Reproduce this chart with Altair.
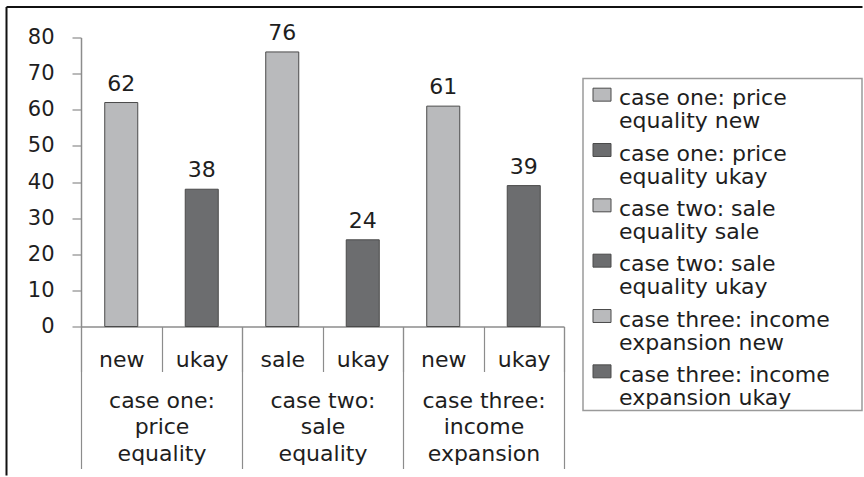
import altair as alt
import pandas as pd

# ---- data ----
case_labels = ["case one:|price|equality", "case two:|sale|equality", "case three:|income|expansion"]
sub_labels = ["new", "ukay", "sale", "ukay", "new", "ukay"]
case_of_bar = [0, 0, 1, 1, 2, 2]
values = [62, 38, 76, 24, 61, 39]
shades = ["light", "dark", "light", "dark", "light", "dark"]
y_ticks = [0, 10, 20, 30, 40, 50, 60, 70, 80]
legend_labels = [
    "case one: price\nequality new",
    "case one: price\nequality ukay",
    "case two: sale\nequality sale",
    "case two: sale\nequality ukay",
    "case three: income\nexpansion new",
    "case three: income\nexpansion ukay",
]

# ---- styles ----
LIGHT = "#b9babc"
DARK = "#6c6d6f"
EDGE = "#4a4a4a"
AXIS = "#8c8c8c"
TEXT = "#1e1e1e"
FONT = "DejaVu Sans"

keys = [f"{i}|{s}" for i, s in enumerate(sub_labels)]
bars = pd.DataFrame({
    "key": keys,
    "case": [case_labels[c] for c in case_of_bar],
    "value": values,
    "shade": shades,
})

W, H = 483, 289

color = alt.Color("shade:N", scale=alt.Scale(domain=["light", "dark"], range=[LIGHT, DARK]), legend=None)
xscale = alt.Scale(paddingInner=0, paddingOuter=0)
yscale = alt.Scale(domain=[0, 80], nice=False)

xaxis = alt.Axis(title=None, orient="bottom", offset=0,
                 labelExpr="split(datum.label, '|')[1]", labelAngle=0,
                 labelFont=FONT, labelFontSize=22, labelColor=TEXT,
                 labelBaseline="middle", labelPadding=-12.5,
                 tickBand="extent", tickSize=45, tickColor=AXIS, tickWidth=1.2,
                 domainColor=AXIS, domainWidth=1.5, grid=False)
yaxis = alt.Axis(title=None, values=y_ticks, tickCount=len(y_ticks), labelOverlap=False,
                 labelFont=FONT, labelFontSize=21, labelColor=TEXT,
                 labelPadding=18, tickSize=9, tickColor=AXIS, tickWidth=1.2,
                 domainColor=AXIS, domainWidth=1.5, grid=False)

xb = alt.X("key:N", sort=keys, scale=xscale, axis=xaxis)
yb = alt.Y("value:Q", scale=yscale, axis=yaxis)

bar_layer = alt.Chart(bars).mark_bar(width={"band": 0.41}, stroke=EDGE, strokeWidth=1).encode(
    x=xb, y=yb, color=color)
text_layer = alt.Chart(bars).mark_text(baseline="bottom", dy=-7, font=FONT, fontSize=22, color=TEXT).encode(
    x=xb, y=yb, text="value:Q")
inner = alt.layer(bar_layer, text_layer)

group_layer = alt.Chart(bars).mark_point(opacity=0).encode(
    x=alt.X("case:N", sort=case_labels, scale=alt.Scale(paddingInner=0, paddingOuter=0),
            axis=alt.Axis(title=None, orient="bottom", offset=0,
                          labelExpr="split(datum.label, '|')", labelAngle=0,
                          labelFont=FONT, labelFontSize=22, labelColor=TEXT,
                          labelBaseline="middle", labelLineHeight=26.7, labelPadding=-68.5,
                          tickBand="extent", tickSize=142, tickColor=AXIS, tickWidth=1.2,
                          domain=False, grid=False)),
    y=yb)

frame = alt.Chart(pd.DataFrame({"f": [0]}))
left_rule = frame.mark_rule(color="#111111", strokeWidth=2).encode(
    x=alt.value(-74.5), y=alt.value(-30.5), y2=alt.value(438))
top_rule = frame.mark_rule(color="#111111", strokeWidth=2).encode(
    x=alt.value(-74.5), x2=alt.value(781.5), y=alt.value(-30.5))

main = alt.layer(inner, group_layer, left_rule, top_rule).resolve_scale(x="independent").properties(
    width=W, height=H, view=alt.ViewBackground(stroke="transparent"))

# ---- legend ----
leg_df = pd.DataFrame({"label": legend_labels, "shade": shades})
leg_y = alt.Y("label:N", sort=legend_labels, axis=None, scale=alt.Scale(paddingInner=0, paddingOuter=0.06))
sym = alt.Chart(leg_df).mark_point(
    shape="M-1,-0.72L1,-0.72L1,0.72L-1,0.72Z", filled=True, size=324, opacity=1,
    stroke=EDGE, strokeWidth=1, yOffset=-11.5).encode(
    x=alt.value(19), y=leg_y,
    fill=alt.Fill("shade:N", scale=alt.Scale(domain=["light", "dark"], range=[LIGHT, DARK]), legend=None))
txt = alt.Chart(leg_df).mark_text(
    align="left", baseline="middle", lineBreak="\n", font=FONT, fontSize=22,
    lineHeight=23, dy=-8, color=TEXT).encode(x=alt.value(36), y=leg_y, text="label:N")
legend = alt.layer(sym, txt).properties(
    width=279, height=332, view=alt.ViewBackground(stroke="#9a9a9a", strokeWidth=1.5))

spacer = alt.Chart(pd.DataFrame({"f": [0]})).mark_point(opacity=0).encode(
    x=alt.value(0), y=alt.value(0)).properties(
    width=279, height=41, view=alt.ViewBackground(stroke="transparent"))

right = alt.vconcat(spacer, legend, spacing=0, bounds="flush")
chart = alt.hconcat(main, right, spacing=19, bounds="flush").properties(
    padding={"left": 5, "top": 5.5, "right": 0, "bottom": 0}, background="white")

chart.save("out.html", embed_options={"renderer": "svg", "actions": False})
